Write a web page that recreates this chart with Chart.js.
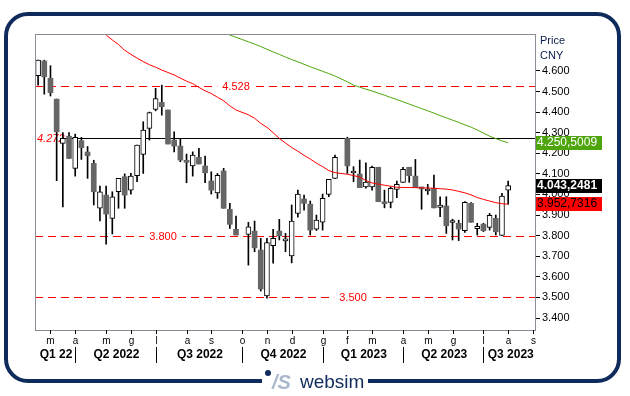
<!DOCTYPE html>
<html lang="en">
<head>
<meta charset="UTF-8">
<title>CNY weekly</title>
<script src="https://cdn.jsdelivr.net/npm/chart.js"></script>
<style>
  html, body { margin: 0; padding: 0; background: #fff; }
  #wrap { width: 630px; height: 396px; }
</style>
</head>
<body>
<div id="wrap"><canvas id="chart" width="630" height="396"></canvas></div>
<script>
// weekly candles, one slot per week (null = market closed that week), last 4 slots empty
const openP  = [4.577,4.648,4.564,4.463,4.248,4.283,4.127,4.261,4.206,4.151,3.933,3.997,3.884,4.013,4.086,4.021,4.091,4.195,4.321,4.413,4.447,4.410,4.264,4.235,4.164,4.139,4.180,4.138,4.065,4.008,4.114,3.928,3.831,null,3.806,3.822,3.730,3.507,3.751,3.822,3.775,3.702,3.908,3.978,3.953,3.831,3.865,4.000,4.078,null,4.272,4.104,4.099,4.037,4.037,4.132,3.963,3.961,4.025,4.059,4.132,4.089,4.033,4.017,4.030,3.937,3.944,3.864,3.860,3.824,3.957,3.834,3.856,3.840,3.884,3.801,4.021];
const highP  = [4.652,4.652,4.625,4.463,4.301,4.300,4.293,4.277,4.233,4.166,4.041,4.041,4.013,4.078,4.100,4.102,4.240,4.353,4.400,4.515,4.531,4.410,4.304,4.272,4.196,4.207,4.224,4.186,4.110,4.102,4.127,3.957,3.895,null,3.865,3.871,3.787,3.787,3.831,3.879,3.811,3.949,4.021,3.997,3.968,3.900,4.002,4.073,4.191,null,4.278,4.135,4.167,4.154,4.138,4.132,4.021,4.037,4.065,4.132,4.132,4.170,4.033,4.049,4.094,3.989,3.989,3.880,3.875,3.966,3.960,3.860,3.860,3.908,3.900,4.005,4.065];
const lowP   = [4.531,4.487,4.478,4.067,3.940,4.175,4.089,4.170,4.078,3.949,3.872,3.759,3.808,3.933,3.933,4.002,4.062,4.102,4.264,4.406,4.385,4.245,4.207,4.159,4.057,4.089,4.148,4.057,4.002,3.981,3.933,3.835,3.803,null,3.657,3.722,3.531,3.496,3.666,3.779,3.722,3.668,3.890,3.924,3.803,3.825,3.827,3.989,4.078,null,4.102,4.062,4.033,4.030,4.021,3.965,3.935,3.935,3.984,4.059,4.059,4.033,3.928,4.000,3.935,3.892,3.811,3.779,3.776,3.816,3.865,3.803,3.820,3.827,3.803,3.801,3.953];
const closeP = [4.652,4.571,4.494,4.304,4.272,4.175,4.277,4.227,4.188,4.013,4.013,3.905,3.989,4.078,3.997,4.089,4.240,4.313,4.397,4.466,4.426,4.245,4.235,4.167,4.156,4.191,4.148,4.105,4.021,4.093,3.933,3.855,3.803,null,3.843,3.741,3.541,3.767,3.787,3.800,3.777,3.871,4.002,3.957,3.827,3.876,3.981,4.073,4.180,null,4.139,4.106,4.033,4.060,4.132,3.965,3.955,4.030,4.049,4.122,4.091,4.033,4.027,4.019,3.935,3.949,3.848,3.866,3.832,3.962,3.865,3.845,3.824,3.899,3.819,3.992,4.043];

// moving averages (values above the top are clipped)
const redMA = [5.06,5.04,5.01,4.99,4.96,4.94,4.91,4.88,4.86,4.83,4.80,4.774,4.75,4.728,4.70,4.68,4.662,4.645,4.63,4.618,4.604,4.592,4.58,4.565,4.55,4.538,4.52,4.503,4.49,4.472,4.455,4.43,4.41,null,4.387,4.37,4.345,4.326,4.30,4.272,4.25,4.228,4.21,4.19,4.172,4.152,4.135,4.116,4.106,null,4.098,4.092,4.084,4.068,4.056,4.05,4.045,4.040,4.035,4.034,4.034,4.033,4.032,4.031,4.030,4.028,4.026,4.022,4.015,4.008,3.998,3.985,3.976,3.968,3.960,3.955,3.9527];
const greenMA = [null,null,null,null,null,null,null,null,null,null,null,null,null,null,null,null,null,null,null,null,4.95,4.93,4.91,4.89,4.87,4.85,4.835,4.82,4.805,4.795,4.785,4.774,4.763,null,4.741,4.730,4.718,4.705,4.692,4.680,4.667,4.655,4.644,4.632,4.620,4.609,4.598,4.587,4.575,null,4.547,4.531,4.521,4.511,4.502,4.492,4.482,4.471,4.461,4.450,4.439,4.428,4.417,4.406,4.395,4.383,4.372,4.361,4.350,4.338,4.327,4.313,4.298,4.283,4.271,4.260,4.2505];

const weeks = Array.from({ length: 81 }, (_, i) => String(i));
const yTicks = [3.4, 3.5, 3.6, 3.7, 3.8, 3.9, 4.0, 4.1, 4.2, 4.3, 4.4, 4.5, 4.6];
const levels = [4.528, 3.800, 3.500];
const levelLabels = ['4.528', '3.800', '3.500'];
const trendLevel = 4.272;

const monthIdx = [2, 6, 11, 15, 19, 24, 28, 33, 37, 41, 46, 50, 54, 59, 63, 67, 72, 76, 80];
const monthLbl = ['m','a','m','g','l','a','s','o','n','d','g','f','m','a','m','g','l','a','s'];
const quarterSep = [6, 19, 33, 46, 59, 72];
const quarterLbl = ['Q1 22','Q2 2022','Q3 2022','Q4 2022','Q1 2023','Q2 2023','Q3 2023'];

const lastClose = '4.043,2481';
const lastRed = '3.952,7316';
const lastGreen = '4.250,5009';

const bodies = openP.map((o, i) => o == null ? null : [o, closeP[i]]);
const wicks = lowP.map((l, i) => l == null ? null : [l, highP[i]]);
const isUp = i => closeP[i] >= openP[i];

const NAVY = '#0e2b5c';
const FONT = '"Liberation Sans", Arial, sans-serif';

const decor = {
    id: 'decor',
    beforeDraw(chart) {
        const ctx = chart.ctx;
        ctx.save();
        ctx.fillStyle = '#fff';
        ctx.fillRect(0, 0, chart.width, chart.height);

        // outer frame with a gap for the logo
        ctx.strokeStyle = NAVY;
        ctx.lineWidth = 4;
        ctx.beginPath();
        ctx.moveTo(262, 381);
        ctx.lineTo(28, 381);
        ctx.arcTo(6, 381, 6, 359, 22);
        ctx.lineTo(6, 36);
        ctx.arcTo(6, 14, 28, 14, 22);
        ctx.lineTo(597, 14);
        ctx.arcTo(619, 14, 619, 36, 22);
        ctx.lineTo(619, 359);
        ctx.arcTo(619, 381, 597, 381, 22);
        ctx.lineTo(368, 381);
        ctx.stroke();

        // logo
        ctx.fillStyle = NAVY;
        ctx.beginPath();
        ctx.arc(268, 373, 3, 0, Math.PI * 2);
        ctx.fill();
        ctx.fillStyle = '#a9b8cd';
        ctx.font = 'italic bold 20px ' + FONT;
        ctx.textBaseline = 'alphabetic';
        ctx.fillText('/S', 272, 389);
        ctx.fillStyle = NAVY;
        ctx.font = '19px ' + FONT;
        ctx.fillText('websim', 300, 388);
        ctx.restore();
    },
    beforeDatasetsDraw(chart) {
        const ctx = chart.ctx, a = chart.chartArea;
        const y = chart.scales.y, x = chart.scales.x;
        ctx.save();
        ctx.beginPath();
        ctx.rect(a.left, a.top, a.right - a.left, a.bottom - a.top);
        ctx.clip();

        // dashed support / resistance levels
        const labelX = [236, 163, 353];
        ctx.strokeStyle = '#f00';
        ctx.lineWidth = 1;
        ctx.setLineDash([8, 5]);
        ctx.font = '11px ' + FONT;
        ctx.textAlign = 'center';
        ctx.textBaseline = 'middle';
        levels.forEach((v, k) => {
            const py = Math.round(y.getPixelForValue(v)) + 0.5;
            ctx.beginPath();
            ctx.moveTo(a.left, py);
            ctx.lineTo(a.right, py);
            ctx.stroke();
            const w = ctx.measureText(levelLabels[k]).width + 10;
            ctx.fillStyle = '#fff';
            ctx.fillRect(labelX[k] - w / 2, py - 6, w, 12);
            ctx.fillStyle = '#f00';
            ctx.fillText(levelLabels[k], labelX[k], py);
        });
        ctx.setLineDash([]);

        // horizontal black trend line from week 4
        const ty = Math.round(y.getPixelForValue(trendLevel)) + 0.5;
        ctx.strokeStyle = '#000';
        ctx.beginPath();
        ctx.moveTo(x.getPixelForValue(4), ty);
        ctx.lineTo(a.right, ty);
        ctx.stroke();
        ctx.fillStyle = '#f00';
        ctx.font = 'italic 11px ' + FONT;
        ctx.textAlign = 'left';
        ctx.fillText('4.272', 37, ty);
        ctx.restore();
    },
    afterDraw(chart) {
        const ctx = chart.ctx, a = chart.chartArea;
        const y = chart.scales.y, x = chart.scales.x;
        ctx.save();

        // plot frame
        ctx.strokeStyle = '#8b8b97';
        ctx.lineWidth = 1;
        ctx.strokeRect(a.left + 0.5, a.top + 0.5, a.right - a.left - 1, a.bottom - a.top);

        // month ticks and letters
        ctx.strokeStyle = '#000';
        ctx.fillStyle = '#000';
        ctx.font = '10px ' + FONT;
        ctx.textAlign = 'center';
        ctx.textBaseline = 'middle';
        monthIdx.forEach((m, k) => {
            const px = Math.round(x.getPixelForValue(m)) + 0.5;
            ctx.beginPath();
            ctx.moveTo(px, a.bottom);
            ctx.lineTo(px, a.bottom + 4);
            ctx.stroke();
            ctx.fillText(monthLbl[k], px, a.bottom + 11);
        });

        // quarter separators and labels
        const edges = [a.left].concat(quarterSep.map(q => x.getPixelForValue(q)), [a.right]);
        quarterSep.forEach(q => {
            const px = Math.round(x.getPixelForValue(q)) + 0.5;
            ctx.beginPath();
            ctx.moveTo(px, a.bottom + 17);
            ctx.lineTo(px, a.bottom + 33);
            ctx.stroke();
        });
        ctx.font = 'bold 12px ' + FONT;
        quarterLbl.forEach((t, k) => {
            ctx.fillText(t, (edges[k] + edges[k + 1]) / 2 + 1, a.bottom + 25);
        });

        // axis title
        ctx.textAlign = 'left';
        ctx.font = '11px ' + FONT;
        ctx.fillStyle = '#0b1f4f';
        ctx.fillText('Price', 540, 41);
        ctx.fillText('CNY', 540, 56);

        // last value boxes
        const box = (val, txt, bg, fg, bold) => {
            const py = Math.round(y.getPixelForValue(val));
            ctx.fillStyle = bg;
            ctx.fillRect(a.right, py - 7, 66, 14);
            ctx.fillStyle = fg;
            ctx.font = (bold ? 'bold ' : '') + '12px ' + FONT;
            ctx.fillText(txt, a.right + 1, py);
        };
        box(greenMA[76], lastGreen, '#4ea50c', '#fff', false);
        box(closeP[76], lastClose, '#000', '#fff', true);
        box(redMA[76], lastRed, '#f00', '#000', false);
        ctx.restore();
    }
};

new Chart(document.getElementById('chart'), {
    type: 'bar',
    data: {
        labels: weeks,
        datasets: [
            {
                type: 'line', data: redMA, borderColor: '#f00', borderWidth: 1,
                pointRadius: 0, spanGaps: true, tension: 0, order: 0
            },
            {
                type: 'line', data: greenMA, borderColor: '#4ea50c', borderWidth: 1,
                pointRadius: 0, spanGaps: true, tension: 0, order: 0
            },
            {
                data: bodies, grouped: false, barThickness: 5, minBarLength: 2,
                backgroundColor: c => isUp(c.dataIndex) ? '#fff' : '#666',
                borderColor: '#000',
                borderWidth: c => isUp(c.dataIndex) ? 1 : 0,
                borderSkipped: false, order: 1
            },
            {
                data: wicks, grouped: false, barThickness: 1,
                backgroundColor: '#000', borderWidth: 0, order: 2
            }
        ]
    },
    options: {
        responsive: false,
        animation: false,
        events: [],
        layout: { padding: { left: 35, top: 34, bottom: 66, right: 0 } },
        plugins: { legend: { display: false }, tooltip: { enabled: false } },
        scales: {
            x: { display: false, offset: true },
            y: {
                position: 'right',
                min: 3.342,
                max: 4.779,
                afterBuildTicks: s => { s.ticks = yTicks.map(v => ({ value: v })); },
                afterFit: s => { s.width = 94; },
                border: { display: false },
                grid: { drawOnChartArea: false, drawTicks: true, tickLength: 4, color: '#000' },
                ticks: {
                    padding: 2,
                    color: '#000',
                    font: { family: FONT, size: 11 },
                    callback: v => v.toFixed(3)
                }
            }
        }
    },
    plugins: [decor]
});
</script>
</body>
</html>
